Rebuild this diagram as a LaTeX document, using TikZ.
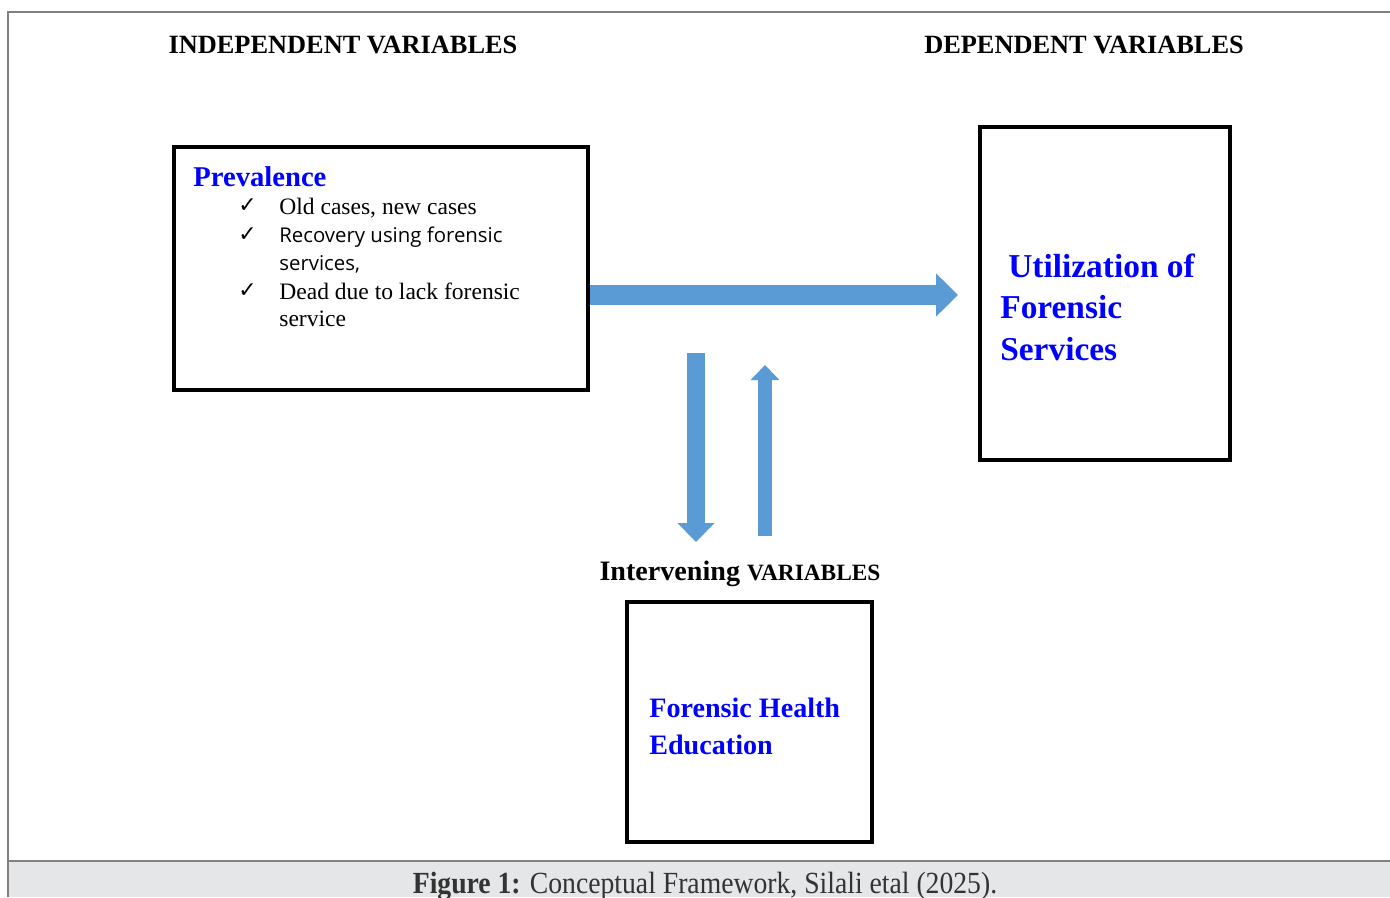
\documentclass[tikz,border=0pt]{standalone}
\usepackage{fontspec}
\usepackage{tikz}
\usetikzlibrary{arrows.meta}
\setmainfont{Liberation Serif}
\newfontfamily\sansfont{Open Sans}
\newfontfamily\tickfont{DejaVu Sans}
\newfontfamily\capfont[FakeStretch=0.9]{Liberation Serif}
\definecolor{arrowblue}{HTML}{5B9BD5}
\definecolor{capgray}{HTML}{E4E6E8}
\definecolor{framegray}{HTML}{808080}
\definecolor{captext}{HTML}{333333}

\begin{document}
\begin{tikzpicture}[x=0.02cm, y=-0.02cm,
    framebox/.style={draw, line width=2.2pt, inner sep=0pt},
    head/.style={anchor=base, inner sep=0pt, font=\fontsize{15}{17}\selectfont\bfseries},
    bluetitle/.style={anchor=base west, inner sep=0pt, text=blue, font=\bfseries},
    item/.style={anchor=base west, inner sep=0pt, font=\fontsize{13.4}{15}\selectfont},
    tick/.style={anchor=base west, inner sep=0pt, font=\tickfont\fontsize{12.5}{14}\selectfont},
    blockarrow/.style n args={3}{draw=arrowblue, line width=#1, -{Triangle[width=#2, length=#3]}}]
    \useasboundingbox (0,0) rectangle (1390,897);
    % frame and caption band
    \fill [capgray] (8,861) rectangle (1390,897);
    \draw [framegray, line width=0.8pt] (8,861) -- (1390,861);
    \draw [framegray, line width=1pt] (8,897) -- (8,12) -- (1390,12);
    \node [anchor=base, inner sep=0pt, text=captext, font=\capfont\fontsize{17.5}{19}\selectfont] (caption) at (705,893)
        {\textbf{Figure 1:} Conceptual Framework, Silali etal (2025).};
    % headings
    \node [head] (indep) at (343,53) {INDEPENDENT VARIABLES};
    \node [head] (dep) at (1084,53) {DEPENDENT VARIABLES};
    \node [anchor=base, inner sep=0pt, font=\bfseries] (interv) at (740,580)
        {\fontsize{16}{18}\selectfont Intervening \fontsize{13.3}{15}\selectfont VARIABLES};
    % boxes
    \node [framebox, minimum width=8.28cm, minimum height=4.86cm] (prev) at (381,268.5) {};
    \node [framebox, minimum width=5cm, minimum height=6.66cm] (util) at (1105,293.5) {};
    \node [framebox, minimum width=4.9cm, minimum height=4.8cm] (fhe) at (749.5,722) {};
    % independent variable text
    \node [bluetitle, font=\fontsize{16.3}{18}\selectfont\bfseries] (prevtitle) at (193,186) {Prevalence};
    \node [tick] (tick1) at (238,212) {✓};
    \node [tick] (tick2) at (238,241) {✓};
    \node [tick] (tick3) at (238,297) {✓};
    \node [item] (old) at (279,214) {Old cases, new cases};
    \node [item, font=\sansfont\fontsize{11.6}{13}\selectfont] (recov) at (279,242) {Recovery using forensic};
    \node [item, font=\sansfont\fontsize{11.6}{13}\selectfont] (recov2) at (279,270) {services,};
    \node [item] (dead) at (279,299) {Dead due to lack forensic};
    \node [item] (dead2) at (279,326) {service};
    % dependent and intervening text
    \node [bluetitle, font=\fontsize{19}{22}\selectfont\bfseries] (utilt1) at (1008,277) {Utilization of};
    \node [bluetitle, font=\fontsize{19}{22}\selectfont\bfseries] (utilt2) at (1000,318) {Forensic};
    \node [bluetitle, font=\fontsize{19}{22}\selectfont\bfseries] (utilt3) at (1000,360) {Services};
    \node [bluetitle, font=\fontsize{16}{18}\selectfont\bfseries] (fhet1) at (649,717) {Forensic Health};
    \node [bluetitle, font=\fontsize{16}{18}\selectfont\bfseries] (fhet2) at (649,754) {Education};
    % block arrows
    \coordinate (fwdend) at (958,295);
    \coordinate (downtop) at (696,353);
    \coordinate (downtip) at (696,542);
    \coordinate (upbase) at (765,536);
    \coordinate (uptip) at (765,365);
    \draw [blockarrow={0.4cm}{0.84cm}{0.44cm}] (prev.east |- fwdend) -- (fwdend);
    \draw [blockarrow={0.36cm}{0.72cm}{0.38cm}] (downtop) -- (downtip);
    \draw [blockarrow={0.28cm}{0.56cm}{0.3cm}] (upbase) -- (uptip);
\end{tikzpicture}
\end{document}
